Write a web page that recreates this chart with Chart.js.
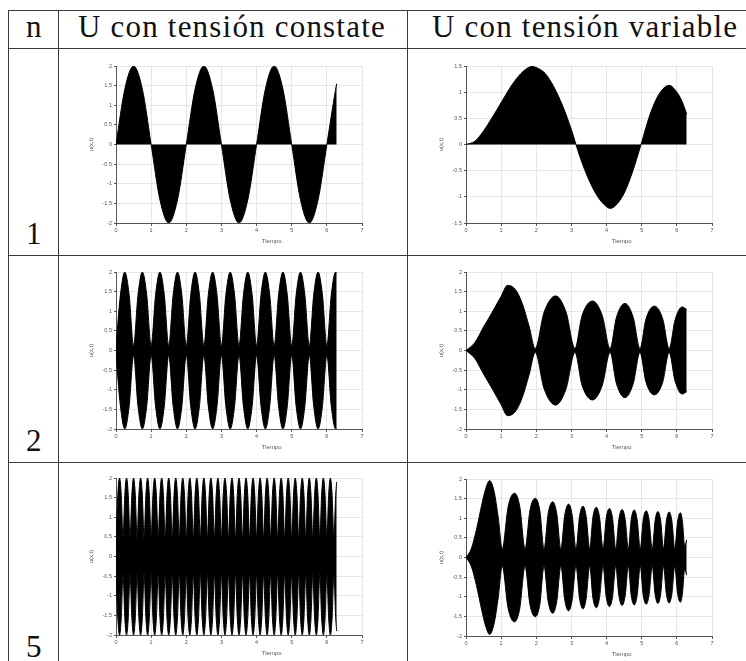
<!DOCTYPE html>
<html>
<head>
<meta charset="utf-8">
<script src="https://cdn.jsdelivr.net/npm/chart.js@4"></script>
<style>
  html, body { margin: 0; padding: 0; background: #fff; }
  body { width: 746px; height: 661px; position: relative; overflow: hidden; font-family: "Liberation Serif", serif; }
  .rule { position: absolute; background: #3a3a3a; }
  .cell-text { position: absolute; font-size: 31px; line-height: 30px; color: #111; white-space: nowrap; letter-spacing: 1.2px; }
  canvas.plot { position: absolute; filter: blur(0.3px); }
</style>
</head>
<body>
<!-- table rules -->
<div class="rule" style="left:8px; top:10px; width:738px; height:1px"></div>
<div class="rule" style="left:8px; top:48px; width:738px; height:1px"></div>
<div class="rule" style="left:8px; top:255px; width:738px; height:1px"></div>
<div class="rule" style="left:8px; top:462px; width:738px; height:1px"></div>
<div class="rule" style="left:8px; top:10px; width:1px; height:651px"></div>
<div class="rule" style="left:58px; top:10px; width:1px; height:651px"></div>
<div class="rule" style="left:407px; top:10px; width:1px; height:651px"></div>

<div class="cell-text" style="left:26px; top:12px">n</div>
<div class="cell-text" style="left:78px; top:12px">U con tensión constate</div>
<div class="cell-text" style="left:432px; top:12px">U con tensión variable</div>
<div class="cell-text" style="left:26px; top:219px">1</div>
<div class="cell-text" style="left:26px; top:426px">2</div>
<div class="cell-text" style="left:26px; top:632px">5</div>

<canvas class="plot" id="plotA" width="284" height="189" style="left:84px; top:60px; width:284px; height:189px"></canvas>
<canvas class="plot" id="plotB" width="284" height="189" style="left:434px; top:60px; width:284px; height:189px"></canvas>
<canvas class="plot" id="plotC" width="284" height="189" style="left:84px; top:266px; width:284px; height:189px"></canvas>
<canvas class="plot" id="plotD" width="284" height="189" style="left:434px; top:266px; width:284px; height:189px"></canvas>
<canvas class="plot" id="plotE" width="284" height="189" style="left:84px; top:472px; width:284px; height:189px"></canvas>
<canvas class="plot" id="plotF" width="284" height="189" style="left:434px; top:473px; width:284px; height:189px"></canvas>

<script>
// axis ticks shared by all six plots
const xTicks = [0, 1, 2, 3, 4, 5, 6, 7]
const yTicksWide = [-2, -1.5, -1, -0.5, 0, 0.5, 1, 1.5, 2]
const yTicksNarrow = [-1.5, -1, -0.5, 0, 0.5, 1, 1.5]
const timeCaptionAt = 4.43

// n = 1, constant tension: u(t)
const timeA = [0, 0.25, 0.5, 0.75, 1, 1.25, 1.5, 1.75, 2, 2.25, 2.5, 2.75, 3, 3.25, 3.5, 3.75,
  4, 4.25, 4.5, 4.75, 5, 5.25, 5.5, 5.75, 6, 6.25, 6.28]
const uA = [0, 1.41, 2, 1.41, 0, -1.41, -2, -1.41, 0, 1.41, 2, 1.41, 0, -1.41, -2, -1.41,
  0, 1.41, 2, 1.41, 0, -1.41, -2, -1.41, 0, 1.41, 1.55]

// n = 1, variable tension: u(t)
const timeB = [0, 0.25, 0.5, 0.75, 1, 1.25, 1.5, 1.75, 1.88, 2, 2.25, 2.5, 2.75, 3, 3.13,
  3.25, 3.5, 3.75, 4, 4.1, 4.25, 4.5, 4.75, 4.98, 5.25, 5.5, 5.78, 6, 6.15, 6.28]
const uB = [0, 0.06, 0.26, 0.52, 0.8, 1.08, 1.31, 1.46, 1.49, 1.47, 1.36, 1.1, 0.74, 0.28, 0,
  -0.25, -0.68, -1.0, -1.19, -1.22, -1.17, -0.93, -0.5, 0, 0.6, 0.97, 1.13, 1.0, 0.82, 0.58]

// n = 2, constant tension: envelope of the oscillation
const timeC = [0, 0.125, 0.25, 0.375, 0.5, 0.625, 0.75, 0.875, 1, 1.125, 1.25, 1.375,
  1.5, 1.625, 1.75, 1.875, 2, 2.125, 2.25, 2.375, 2.5, 2.625, 2.75, 2.875,
  3, 3.125, 3.25, 3.375, 3.5, 3.625, 3.75, 3.875, 4, 4.125, 4.25, 4.375,
  4.5, 4.625, 4.75, 4.875, 5, 5.125, 5.25, 5.375, 5.5, 5.625, 5.75, 5.875,
  6, 6.125, 6.25, 6.28]
const envC = [0.12, 1.41, 2, 1.41, 0.12, 1.41, 2, 1.41, 0.12, 1.41, 2, 1.41,
  0.12, 1.41, 2, 1.41, 0.12, 1.41, 2, 1.41, 0.12, 1.41, 2, 1.41,
  0.12, 1.41, 2, 1.41, 0.12, 1.41, 2, 1.41, 0.12, 1.41, 2, 1.41,
  0.12, 1.41, 2, 1.41, 0.12, 1.41, 2, 1.41, 0.12, 1.41, 2, 1.41,
  0.12, 1.41, 2, 1.98]

// n = 2, variable tension: envelope
const timeD = [0, 0.25, 0.5, 0.75, 1, 1.18, 1.4, 1.6, 1.8, 1.97,
  2.22, 2.55, 2.85, 3.1, 3.3, 3.6, 3.88, 4.1, 4.28, 4.52, 4.76, 4.95,
  5.12, 5.36, 5.6, 5.78, 5.95, 6.15, 6.28]
const envD = [0, 0.2, 0.6, 0.98, 1.38, 1.66, 1.56, 1.2, 0.6, 0.05,
  0.97, 1.39, 0.97, 0.05, 0.88, 1.26, 0.88, 0.05, 0.84, 1.2, 0.84, 0.05,
  0.8, 1.13, 0.8, 0.05, 0.78, 1.11, 1.05]

// n = 5, constant tension: envelope
const timeE = [
  0, 0.05, 0.1, 0.15, 0.2, 0.25, 0.3, 0.35, 0.4, 0.45, 0.5, 0.55, 0.6, 0.65, 0.7, 0.75, 0.8, 0.85, 0.9, 0.95,
  1, 1.05, 1.1, 1.15, 1.2, 1.25, 1.3, 1.35, 1.4, 1.45, 1.5, 1.55, 1.6, 1.65, 1.7, 1.75, 1.8, 1.85, 1.9, 1.95,
  2, 2.05, 2.1, 2.15, 2.2, 2.25, 2.3, 2.35, 2.4, 2.45, 2.5, 2.55, 2.6, 2.65, 2.7, 2.75, 2.8, 2.85, 2.9, 2.95,
  3, 3.05, 3.1, 3.15, 3.2, 3.25, 3.3, 3.35, 3.4, 3.45, 3.5, 3.55, 3.6, 3.65, 3.7, 3.75, 3.8, 3.85, 3.9, 3.95,
  4, 4.05, 4.1, 4.15, 4.2, 4.25, 4.3, 4.35, 4.4, 4.45, 4.5, 4.55, 4.6, 4.65, 4.7, 4.75, 4.8, 4.85, 4.9, 4.95,
  5, 5.05, 5.1, 5.15, 5.2, 5.25, 5.3, 5.35, 5.4, 5.45, 5.5, 5.55, 5.6, 5.65, 5.7, 5.75, 5.8, 5.85, 5.9, 5.95,
  6, 6.05, 6.1, 6.15, 6.2, 6.25, 6.28]
const envE = [
  0.45, 1.55, 2, 1.55, 0.45, 1.55, 2, 1.55, 0.45, 1.55, 2, 1.55, 0.45, 1.55, 2, 1.55, 0.45, 1.55, 2, 1.55,
  0.45, 1.55, 2, 1.55, 0.45, 1.55, 2, 1.55, 0.45, 1.55, 2, 1.55, 0.45, 1.55, 2, 1.55, 0.45, 1.55, 2, 1.55,
  0.45, 1.55, 2, 1.55, 0.45, 1.55, 2, 1.55, 0.45, 1.55, 2, 1.55, 0.45, 1.55, 2, 1.55, 0.45, 1.55, 2, 1.55,
  0.45, 1.55, 2, 1.55, 0.45, 1.55, 2, 1.55, 0.45, 1.55, 2, 1.55, 0.45, 1.55, 2, 1.55, 0.45, 1.55, 2, 1.55,
  0.45, 1.55, 2, 1.55, 0.45, 1.55, 2, 1.55, 0.45, 1.55, 2, 1.55, 0.45, 1.55, 2, 1.55, 0.45, 1.55, 2, 1.55,
  0.45, 1.55, 2, 1.55, 0.45, 1.55, 2, 1.55, 0.45, 1.55, 2, 1.55, 0.45, 1.55, 2, 1.55, 0.45, 1.55, 2, 1.55,
  0.45, 1.55, 2, 1.55, 0.45, 1.55, 1.9]

// n = 5, variable tension: envelope
const timeF = [0, 0.15, 0.3, 0.45, 0.55, 0.67, 0.8, 0.92, 1.03,
  1.2, 1.38, 1.53, 1.68, 1.82, 1.97, 2.1, 2.22, 2.34, 2.47, 2.58, 2.7,
  2.81, 2.92, 3.02, 3.13, 3.23, 3.33, 3.42, 3.52, 3.61, 3.71, 3.8, 3.9,
  3.99, 4.08, 4.17, 4.26, 4.35, 4.44, 4.53, 4.62, 4.7, 4.79, 4.87, 4.96,
  5.04, 5.13, 5.21, 5.3, 5.38, 5.46, 5.54, 5.62, 5.7, 5.78, 5.86, 5.94,
  6.02, 6.1, 6.16, 6.22, 6.28]
const envF = [0, 0.22, 0.72, 1.35, 1.72, 1.96, 1.68, 1.0, 0.22,
  1.3, 1.64, 1.3, 0.22, 1.2, 1.51, 1.2, 0.22, 1.13, 1.42, 1.13, 0.22,
  1.08, 1.36, 1.08, 0.22, 1.04, 1.31, 1.04, 0.22, 1.02, 1.28, 1.02, 0.22,
  1.0, 1.25, 1.0, 0.22, 0.97, 1.22, 0.97, 0.22, 0.96, 1.21, 0.96, 0.22,
  0.95, 1.19, 0.95, 0.22, 0.93, 1.17, 0.93, 0.22, 0.92, 1.16, 0.92, 0.22,
  0.91, 1.14, 0.91, 0.3, 0.45]

const ink = {
  borderColor: '#000',
  backgroundColor: '#000',
  borderWidth: 1,
  pointRadius: 0,
  cubicInterpolationMode: 'monotone'
}
const axisGrey = '#555'
const gridGrey = '#e6e6e6'
const tickFont = { family: 'Liberation Sans', size: 5.5 }

function points(times, values, sign = 1) {
  return times.map((t, i) => ({ x: t, y: sign * values[i] }))
}

function curve(times, values) {
  return [{ ...ink, data: points(times, values), fill: 'origin' }]
}

// upper envelope filled down to the lower one, so there is no seam at zero
function envelope(times, values) {
  return [
    { ...ink, data: points(times, values), fill: '+1' },
    { ...ink, data: points(times, values, -1), fill: false }
  ]
}

// "Tiempo" sits off-centre under the axis, so it is drawn at a time value
const timeCaption = {
  id: 'timeCaption',
  afterDraw(chart) {
    const { ctx, chartArea, scales } = chart
    ctx.save()
    ctx.font = '6px "Liberation Sans"'
    ctx.fillStyle = axisGrey
    ctx.textAlign = 'center'
    ctx.textBaseline = 'middle'
    ctx.fillText('Tiempo', scales.x.getPixelForValue(timeCaptionAt), chartArea.bottom + 18)
    ctx.restore()
  }
}

function plot(id, datasets, yTicks) {
  new Chart(document.getElementById(id), {
    type: 'line',
    data: { datasets },
    plugins: [timeCaption],
    options: {
      responsive: false,
      animation: false,
      devicePixelRatio: 1,
      layout: { padding: { top: 6, right: 6, left: 0, bottom: 0 } },
      plugins: { legend: { display: false }, tooltip: { enabled: false } },
      scales: {
        x: {
          type: 'linear',
          min: xTicks[0],
          max: xTicks[xTicks.length - 1],
          afterBuildTicks: s => { s.ticks = xTicks.map(v => ({ value: v })) },
          afterFit: s => { s.height = 26 },
          grid: { color: gridGrey, tickLength: 3, tickColor: axisGrey },
          border: { color: axisGrey },
          ticks: { font: tickFont, color: axisGrey, padding: 1, maxRotation: 0, callback: v => String(v) }
        },
        y: {
          type: 'linear',
          min: yTicks[0],
          max: yTicks[yTicks.length - 1],
          afterBuildTicks: s => { s.ticks = yTicks.map(v => ({ value: v })) },
          afterFit: s => { s.width = 32 },
          grid: { color: gridGrey, tickLength: 2, tickColor: axisGrey },
          border: { color: axisGrey },
          ticks: { font: tickFont, color: axisGrey, padding: 2, callback: v => String(v) },
          title: { display: true, text: 'u(x,t)', font: { family: 'Liberation Sans', size: 6 }, color: axisGrey, padding: { top: 4, bottom: 0 } }
        }
      }
    }
  })
}

plot('plotA', curve(timeA, uA), yTicksWide)
plot('plotB', curve(timeB, uB), yTicksNarrow)
plot('plotC', envelope(timeC, envC), yTicksWide)
plot('plotD', envelope(timeD, envD), yTicksWide)
plot('plotE', envelope(timeE, envE), yTicksWide)
plot('plotF', envelope(timeF, envF), yTicksWide)
</script>
</body>
</html>
